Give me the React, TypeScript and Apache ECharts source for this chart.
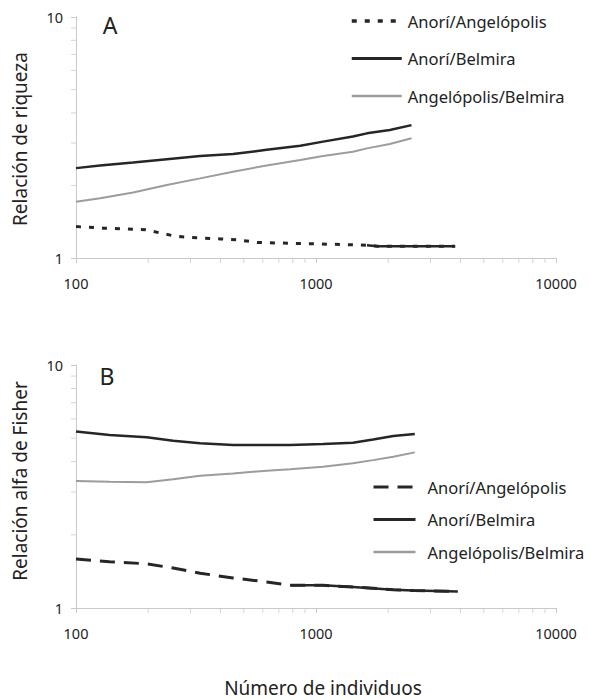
import React, { useEffect, useRef } from "react";
import * as echarts from "echarts";

// ---- Panel A: Relación de riqueza ----
const nA = [100, 126, 173, 239, 329, 451, 623, 860, 1070, 1425, 1630, 2030, 2500];
const richAnoriBelmira = [2.36, 2.42, 2.49, 2.57, 2.65, 2.70, 2.81, 2.92, 3.04, 3.19, 3.29, 3.40, 3.56];
const richAngelBelmira = [1.71, 1.77, 1.87, 2.01, 2.14, 2.28, 2.42, 2.55, 2.65, 2.76, 2.85, 2.97, 3.14];
const nAAngel = [100, 130, 195, 260, 329, 400, 470, 570, 800, 1180, 1630, 1800, 3800];
const richAnoriAngel = [1.35, 1.33, 1.31, 1.23, 1.21, 1.20, 1.19, 1.16, 1.15, 1.14, 1.13, 1.12, 1.12];
const topSolidFromN = 1630;

// ---- Panel B: Relación alfa de Fisher ----
const nB = [100, 138, 197, 254, 329, 451, 623, 780, 1070, 1425, 1730, 2100, 2580];
const alphaAnoriBelmira = [5.32, 5.15, 5.04, 4.88, 4.76, 4.69, 4.69, 4.69, 4.73, 4.79, 4.94, 5.10, 5.20];
const alphaAngelBelmira = [3.33, 3.31, 3.29, 3.39, 3.50, 3.58, 3.67, 3.72, 3.81, 3.94, 4.06, 4.19, 4.37];
const nBAngel = [100, 138, 197, 254, 329, 451, 623, 780, 1070, 1425, 2100, 2550, 3900];
const alphaAnoriAngel = [1.59, 1.55, 1.52, 1.46, 1.39, 1.33, 1.28, 1.24, 1.24, 1.22, 1.19, 1.18, 1.17];
const bottomSolidFromN = 780;

const seriesNames = ["Anorí/Angelópolis", "Anorí/Belmira", "Angelópolis/Belmira"];
const xMinorTicks = [200, 300, 400, 500, 600, 700, 800, 900, 2000, 3000, 4000, 5000, 6000, 7000, 8000, 9000];
const yMinorTicks = [2, 3, 4, 5, 6, 7, 8, 9];

const FONT = "Noto Sans";
const BLACK = "#262626";
const GRAY = "#9c9c9c";
const AXIS = "#c9c9c9";
const TEXT = "#222";

const pairs = (xs: number[], ys: number[]) => xs.map((x, i) => [x, ys[i]]);

export default function App() {
  const ref = useRef<HTMLDivElement>(null);
  useEffect(() => {
    if (!ref.current) return;
    const chart = echarts.init(ref.current, undefined, { renderer: "svg" });

    const xAxis = (gi: number) => ({
      type: "log",
      gridIndex: gi,
      min: 100,
      max: 10000,
      logBase: 10,
      axisLine: { show: true, lineStyle: { color: AXIS, width: 1 } },
      axisTick: { show: true, length: 5, lineStyle: { color: AXIS } },
      axisLabel: {
        fontSize: 14.5,
        fontFamily: FONT,
        color: TEXT,
        margin: 17,
        formatter: (v: number) => String(Math.round(v)),
      },
      splitLine: { show: false },
    });
    const yAxis = (gi: number) => ({
      type: "log",
      gridIndex: gi,
      min: 1,
      max: 10,
      logBase: 10,
      axisLine: { show: true, lineStyle: { color: AXIS, width: 1 } },
      axisTick: { show: true, length: 5, lineStyle: { color: AXIS } },
      axisLabel: {
        fontSize: 14.5,
        fontFamily: FONT,
        color: TEXT,
        margin: 13,
        formatter: (v: number) => String(Math.round(v)),
      },
      splitLine: { show: false },
    });

    const minorSeries = (gi: number) => [
      {
        type: "scatter",
        xAxisIndex: gi,
        yAxisIndex: gi,
        silent: true,
        clip: false,
        symbol: "rect",
        symbolSize: [1, 5],
        symbolOffset: [0, "50%"],
        itemStyle: { color: AXIS },
        data: xMinorTicks.map((v) => [v, 1]),
        z: 1,
      },
      {
        type: "scatter",
        xAxisIndex: gi,
        yAxisIndex: gi,
        silent: true,
        clip: false,
        symbol: "rect",
        symbolSize: [5, 1],
        symbolOffset: ["-50%", 0],
        itemStyle: { color: AXIS },
        data: yMinorTicks.map((v) => [100, v]),
        z: 1,
      },
    ];

    const line = (
      gi: number,
      name: string | undefined,
      data: number[][],
      color: string,
      width: number,
      type: any
    ) => ({
      type: "line",
      name,
      xAxisIndex: gi,
      yAxisIndex: gi,
      data,
      symbol: "none",
      showSymbol: false,
      lineStyle: { color, width, type },
      itemStyle: { color },
      z: 3,
    });

    const topAA = pairs(nAAngel, richAnoriAngel);
    const botAA = pairs(nBAngel, alphaAnoriAngel);

    const legendBase = {
      orient: "vertical",
      padding: 0,
      itemHeight: 14,
      itemStyle: { color: "rgba(0,0,0,0)", borderColor: "rgba(0,0,0,0)", borderWidth: 0, opacity: 0 },
      textStyle: { fontSize: 16.5, fontFamily: FONT, color: TEXT, lineHeight: 18 },
      selectedMode: false,
    };

    chart.setOption({
      animation: false,
      backgroundColor: "#fff",
      grid: [
        { left: 76, top: 17, width: 480, height: 241 },
        { left: 76, top: 365, width: 480, height: 243 },
      ],
      xAxis: [xAxis(0), xAxis(1)],
      yAxis: [yAxis(0), yAxis(1)],
      legend: [
        {
          ...legendBase,
          left: 350,
          top: 12,
          itemWidth: 50,
          itemGap: 19.5,
          textStyle: { ...legendBase.textStyle, padding: [0, 0, 0, 1] },
          data: [
            { name: seriesNames[0], lineStyle: { type: [5, 8], width: 3.5, color: BLACK } },
            { name: seriesNames[1], lineStyle: { type: "solid", width: 3, color: BLACK } },
            { name: seriesNames[2], lineStyle: { type: "solid", width: 2.5, color: GRAY } },
          ],
        },
        {
          ...legendBase,
          left: 372,
          top: 478,
          itemWidth: 42,
          itemGap: 14.5,
          textStyle: { ...legendBase.textStyle, padding: [0, 0, 0, 7] },
          data: [
            { name: seriesNames[0], lineStyle: { type: [15, 9], width: 3, color: BLACK } },
            { name: seriesNames[1], lineStyle: { type: "solid", width: 3, color: BLACK } },
            { name: seriesNames[2], lineStyle: { type: "solid", width: 2.5, color: GRAY } },
          ],
        },
      ],
      series: [
        // Panel A
        line(0, seriesNames[0], topAA, BLACK, 3, [5, 8]),
        line(0, seriesNames[1], pairs(nA, richAnoriBelmira), BLACK, 2.5, "solid"),
        line(0, seriesNames[2], pairs(nA, richAngelBelmira), GRAY, 2, "solid"),
        line(0, undefined, topAA.filter((p) => p[0] >= topSolidFromN), BLACK, 2.5, "solid"),
        // Panel B
        line(1, seriesNames[0], botAA, BLACK, 3, [15, 9]),
        line(1, seriesNames[1], pairs(nB, alphaAnoriBelmira), BLACK, 2.5, "solid"),
        line(1, seriesNames[2], pairs(nB, alphaAngelBelmira), GRAY, 2, "solid"),
        line(1, undefined, botAA.filter((p) => p[0] >= bottomSolidFromN), BLACK, 2.5, "solid"),
        ...minorSeries(0),
        ...minorSeries(1),
      ],
      graphic: [
        {
          type: "text",
          x: 110,
          y: 25,
          style: { text: "A", fontSize: 23, fontFamily: FONT, fill: TEXT, align: "center", verticalAlign: "middle" },
        },
        {
          type: "text",
          x: 107,
          y: 376,
          style: { text: "B", fontSize: 23, fontFamily: FONT, fill: TEXT, align: "center", verticalAlign: "middle" },
        },
        {
          type: "text",
          x: 20,
          y: 139,
          rotation: Math.PI / 2,
          style: { text: "Relación de riqueza", fontSize: 19, fontFamily: FONT, fill: TEXT, align: "center", verticalAlign: "middle" },
        },
        {
          type: "text",
          x: 20,
          y: 481,
          rotation: Math.PI / 2,
          style: { text: "Relación alfa de Fisher", fontSize: 19, fontFamily: FONT, fill: TEXT, align: "center", verticalAlign: "middle" },
        },
        {
          type: "text",
          x: 323,
          y: 688,
          style: { text: "Número de individuos", fontSize: 19, fontFamily: FONT, fill: TEXT, align: "center", verticalAlign: "middle" },
        },
      ],
    });
    return () => chart.dispose();
  }, []);

  return (
    <div
      ref={ref}
      style={{ position: "fixed", left: 0, top: 0, width: 591, height: 700, background: "#fff" }}
    />
  );
}
